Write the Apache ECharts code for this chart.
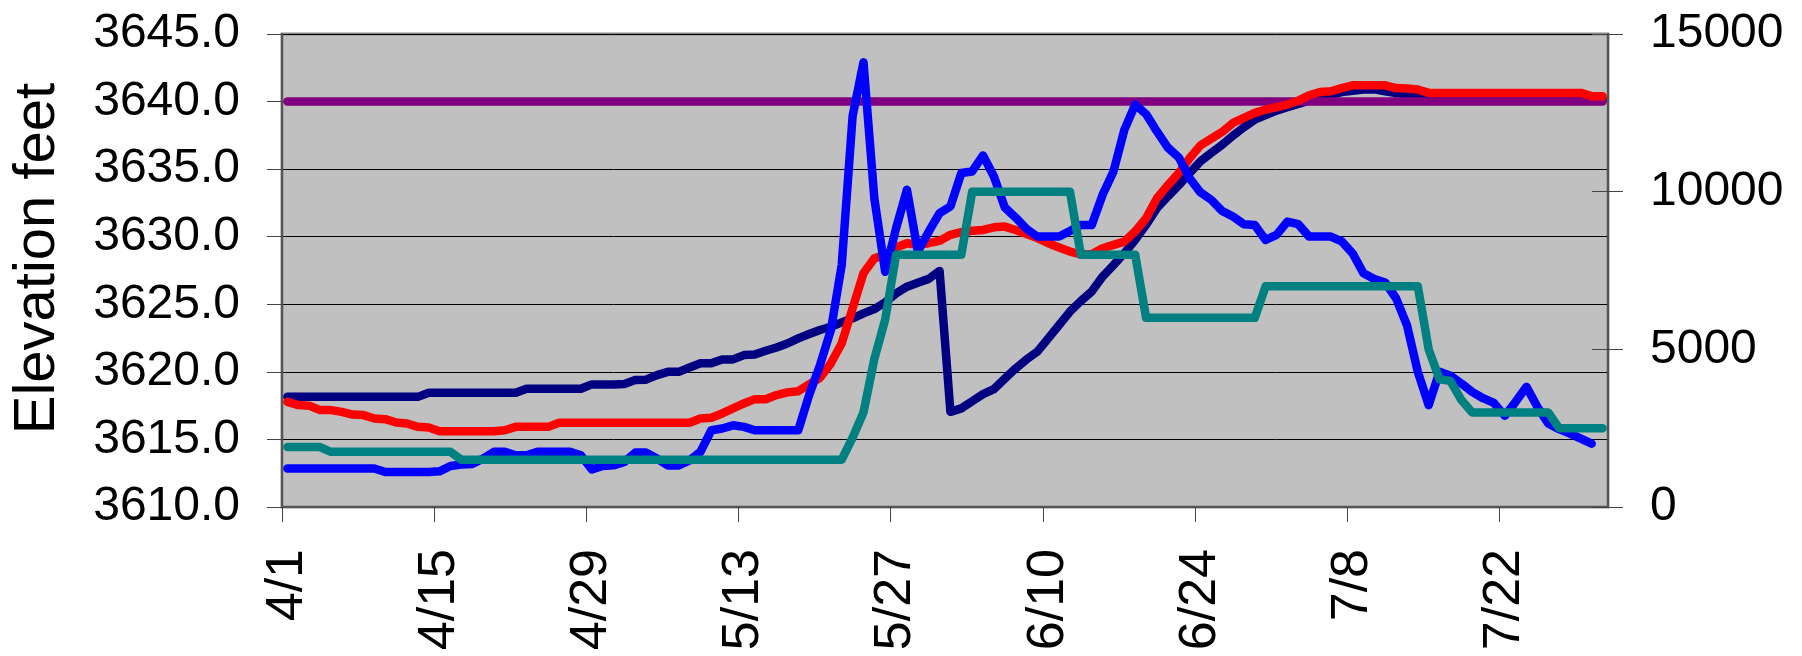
<!DOCTYPE html>
<html><head><meta charset="utf-8">
<script src="https://cdn.jsdelivr.net/npm/echarts@6/dist/echarts.min.js"></script>
<style>html,body{margin:0;padding:0;background:#fff}#c{width:1802px;height:656px}</style>
</head><body><div id="c"></div>
<script>
// Categories: daily dates 4/1 .. 7/31
const dates = [
'4/1','4/2','4/3','4/4','4/5','4/6','4/7','4/8','4/9','4/10','4/11','4/12','4/13','4/14','4/15','4/16','4/17','4/18','4/19','4/20','4/21','4/22','4/23','4/24','4/25','4/26','4/27','4/28','4/29','4/30',
'5/1','5/2','5/3','5/4','5/5','5/6','5/7','5/8','5/9','5/10','5/11','5/12','5/13','5/14','5/15','5/16','5/17','5/18','5/19','5/20','5/21','5/22','5/23','5/24','5/25','5/26','5/27','5/28','5/29','5/30','5/31',
'6/1','6/2','6/3','6/4','6/5','6/6','6/7','6/8','6/9','6/10','6/11','6/12','6/13','6/14','6/15','6/16','6/17','6/18','6/19','6/20','6/21','6/22','6/23','6/24','6/25','6/26','6/27','6/28','6/29','6/30',
'7/1','7/2','7/3','7/4','7/5','7/6','7/7','7/8','7/9','7/10','7/11','7/12','7/13','7/14','7/15','7/16','7/17','7/18','7/19','7/20','7/21','7/22','7/23','7/24','7/25','7/26','7/27','7/28','7/29','7/30','7/31'
];
// Category boundaries that carry a tick mark (every 14 days)
const xTickIdx = [0, 14, 28, 42, 56, 70, 84, 98, 112];

// Elevation (feet), left axis
const navyElev = [
3618.15,3618.15,3618.15,3618.15,3618.15,3618.15,3618.15,3618.15,3618.15,3618.15,3618.15,3618.15,3618.15,
3618.45,3618.45,3618.45,3618.45,3618.45,3618.45,3618.45,3618.45,3618.45,
3618.75,3618.75,3618.75,3618.75,3618.75,3618.75,
3619.07,3619.07,3619.07,3619.1,3619.39,3619.42,3619.76,3620.0,3620.0,3620.33,
3620.63,3620.63,3620.92,3620.92,3621.24,3621.28,3621.56,3621.8,3622.1,3622.48,
3622.8,3623.1,3623.34,3623.66,3623.96,3624.33,3624.65,3625.15,3625.8,3626.3,
3626.6,3626.88,3627.47,3617.04,3617.3,3617.83,3618.35,3618.72,3619.5,3620.25,
3620.92,3621.5,3622.48,3623.47,3624.46,3625.25,3625.94,3627.05,3627.9,3628.78,
3629.77,3630.88,3632.11,3632.98,3633.8,3634.7,3635.57,3636.2,3636.8,3637.48,
3638.1,3638.66,3639.0,3639.33,3639.58,3639.82,3640.07,3640.32,3640.5,3640.7,
3640.8,3640.9,3640.9,3640.76,3640.64,3640.5,3640.4,
3640.2,3640.2,3640.2,3640.2,3640.2,3640.2,3640.2,3640.2,3640.2,3640.2,3640.2,3640.2,3640.2,3640.2,3640.2,3640.2,3640.2
];
const redElev = [
3617.78,3617.54,3617.5,3617.17,3617.17,3617.04,3616.84,3616.8,3616.55,3616.5,3616.25,3616.18,3615.93,3615.88,
3615.61,3615.61,3615.61,3615.61,3615.61,3615.61,3615.68,
3615.93,3615.93,3615.93,3615.93,
3616.23,3616.23,3616.23,3616.23,3616.23,3616.23,3616.23,3616.23,3616.23,3616.23,3616.23,3616.23,3616.23,
3616.55,3616.6,3616.92,3617.29,3617.66,3617.98,3617.98,3618.28,3618.48,3618.57,
3619.07,3619.56,3620.63,3622.11,3624.7,3627.3,3628.4,3628.66,3629.2,3629.52,
3629.4,3629.52,3629.69,3630.14,3630.34,3630.44,3630.5,3630.7,3630.75,3630.5,
3630.19,3629.9,3629.52,3629.2,3628.9,3628.7,3628.7,3629.15,3629.4,3629.64,
3630.39,3631.37,3632.85,3633.8,3634.7,3635.8,3636.76,3637.26,3637.75,3638.42,
3638.79,3639.16,3639.4,3639.58,3639.78,3640.07,3640.47,3640.71,3640.76,3641.0,
3641.2,3641.2,3641.2,3641.2,3641.0,3640.96,3640.89,
3640.64,3640.64,3640.64,3640.64,3640.64,3640.64,3640.64,3640.64,3640.64,3640.64,3640.64,3640.64,3640.64,3640.64,3640.64,
3640.4,3640.4
];
const targetElev = 3640.0;

// Flow (cfs), right axis
const blueFlow = [
1220,1220,1220,1220,1220,1220,1220,1220,1220,
1110,1110,1110,1110,1110,
1130,1300,1345,1365,1535,1750,1750,1640,1640,1750,1750,1750,1750,1640,
1190,1300,1320,1430,1725,1725,1535,1320,1320,1480,
1750,2435,2490,2590,2540,2435,2435,2435,2435,2435,
3550,4500,5610,7680,12400,14100,9790,7460,8840,10060,
8100,8730,9320,9530,10590,10640,11150,10480,9500,9180,
8820,8575,8575,8575,8755,8945,8945,9900,10640,11960,
12760,12460,11910,11400,11090,10430,9980,9740,9390,9210,
8970,8945,8470,8630,9050,8970,8575,8575,8575,8420,
8045,7410,7230,7120,6620,5770,4290,3230,4290,4160,
3920,3650,3450,3300,2890,3335,3810,3180,2650,2470,
2330,2170,2010,null
];
const tealFlow = [
1900,1900,1900,1900,
1750,1750,1750,1750,1750,1750,1750,1750,1750,1750,1750,1750,
1500,1500,1500,1500,1500,1500,1500,1500,1500,1500,1500,1500,1500,1500,1500,1500,1500,1500,
1500,1500,1500,1500,1500,1500,1500,1500,1500,1500,1500,1500,1500,1500,1500,1500,1500,1500,
2200,3000,4700,5950,
8000,8000,8000,8000,8000,8000,8000,
10000,10000,10000,10000,10000,10000,10000,10000,10000,10000,
8000,8000,8000,8000,8000,8000,
6000,6000,6000,6000,6000,6000,6000,6000,6000,6000,6000,
7000,7000,7000,7000,7000,7000,7000,7000,7000,7000,7000,7000,7000,7000,7000,
5000,4050,4000,3400,
3000,3000,3000,3000,3000,3000,3000,3000,
2500,2500,2500,2500,2500
];

const FONT = 'Liberation Sans';
const lineOpt = (name, data, color, axis) => ({
  name, type: 'line', yAxisIndex: axis, data, symbol: 'none', showSymbol: false,
  connectNulls: false, silent: true,
  lineStyle: { color, width: 8.5, cap: 'round', join: 'round' },
  itemStyle: { color }
});

const chart = echarts.init(document.getElementById('c'), null, { renderer: 'canvas' });
chart.setOption({
  animation: false,
  grid: { left: 282, top: 34, width: 1326, height: 473, show: true,
          backgroundColor: '#C0C0C0', borderColor: '#8a8a8a', borderWidth: 3 },
  xAxis: [
    { type: 'category', data: dates, boundaryGap: true, position: 'bottom',
      axisLine: { show: true, lineStyle: { color: '#555', width: 2 } },
      axisTick: { show: false },
      axisLabel: { interval: 13, rotate: 90, fontSize: 52, color: '#000', fontFamily: FONT, margin: 42 },
      splitLine: { show: false } },
    { type: 'value', min: 0, max: dates.length, position: 'bottom',
      axisLine: { show: false },
      axisTick: { show: true, length: 15, customValues: xTickIdx, lineStyle: { color: '#444', width: 1 } },
      axisLabel: { show: false },
      splitLine: { show: false } }
  ],
  yAxis: [
    { type: 'value', min: 3610, max: 3645, interval: 5, position: 'left',
      name: 'Elevation feet', nameLocation: 'middle', nameRotate: 90, nameGap: 215,
      nameTextStyle: { fontSize: 58, color: '#000', fontFamily: FONT, padding: [0, 0, 0, 24] },
      axisLine: { show: true, lineStyle: { color: '#555', width: 2 } },
      axisTick: { show: true, length: 15, lineStyle: { color: '#444', width: 1 } },
      axisLabel: { fontSize: 48, color: '#000', fontFamily: FONT, margin: 42,
                   formatter: v => v.toFixed(1) },
      splitLine: { show: true, lineStyle: { color: '#000', width: 1 } } },
    { type: 'value', min: 0, max: 15000, interval: 5000, position: 'right',
      axisLine: { show: true, lineStyle: { color: '#555', width: 2 } },
      axisTick: { show: true, length: 15, lineStyle: { color: '#444', width: 1 } },
      axisLabel: { fontSize: 48, color: '#000', fontFamily: FONT, margin: 42,
                   formatter: v => String(v) },
      splitLine: { show: false } },
    { type: 'value', min: 0, max: 15000, interval: 5000, position: 'right',
      axisLine: { show: false },
      axisTick: { show: true, inside: true, length: 16, lineStyle: { color: '#444', width: 1 } },
      axisLabel: { show: false },
      splitLine: { show: false } }
  ],
  series: [
    lineOpt('Navy elevation', navyElev, '#000080', 0),
    lineOpt('Target elevation', dates.map(() => targetElev), '#800080', 0),
    lineOpt('Red elevation', redElev, '#FF0000', 0),
    lineOpt('Inflow', blueFlow, '#0000FF', 1),
    lineOpt('Outflow', tealFlow, '#008080', 1)
  ]
});
</script></body></html>
